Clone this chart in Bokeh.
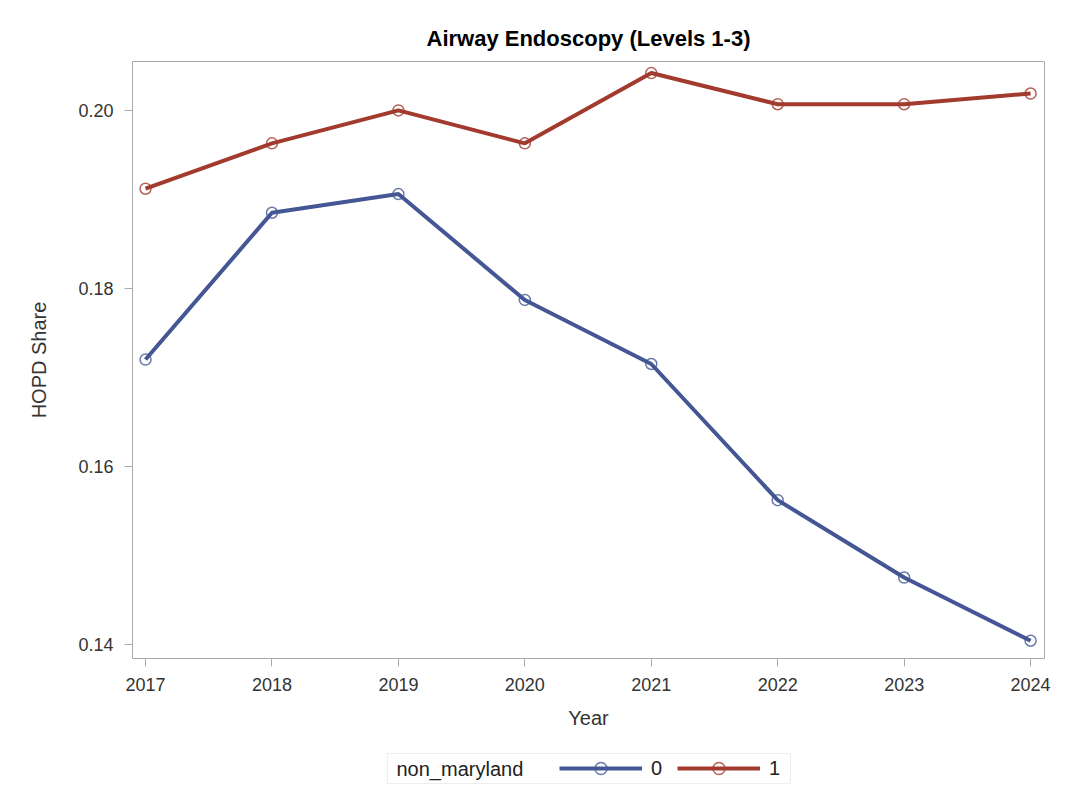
from bokeh.plotting import figure
from bokeh.layouts import column
from bokeh.models import (ColumnDataSource, Range1d, FixedTicker, NumeralTickFormatter,
                          Legend, LegendItem, Title, Label, BoxAnnotation)
from bokeh.embed import file_html
from bokeh.resources import INLINE

years = [2017, 2018, 2019, 2020, 2021, 2022, 2023, 2024]
share_0 = [0.1720, 0.1885, 0.1906, 0.1787, 0.1715, 0.1562, 0.1475, 0.1404]
share_1 = [0.1912, 0.1963, 0.2000, 0.1963, 0.2042, 0.2007, 0.2007, 0.2019]
y_ticks = [0.14, 0.16, 0.18, 0.20]
group_labels = ["0", "1"]
legend_title = "non_maryland"

BLUE = "#445694"
RED = "#A23A2E"
GRAY = "#ABABAB"
FONT = "Liberation Sans"

# ---------------- main chart ----------------
p = figure(frame_width=912, frame_height=597,
           min_border_left=132, min_border_top=61, min_border_right=24, min_border_bottom=82,
           x_range=Range1d(2016.897, 2024.11), y_range=Range1d(0.1384, 0.2055),
           output_backend="svg", toolbar_location=None)
p.title = Title(text="Airway Endoscopy (Levels 1-3)", align="center",
                text_font=FONT, text_font_size="22px", text_font_style="bold",
                text_color="#000000", standoff=21)

p.xgrid.visible = False
p.ygrid.visible = False
p.outline_line_color = GRAY
p.outline_line_width = 1
p.background_fill_color = "white"
p.border_fill_color = "white"

for ax in (p.xaxis[0], p.yaxis[0]):
    ax.axis_line_color = GRAY
    ax.major_tick_line_color = GRAY
    ax.major_tick_out = 8
    ax.major_tick_in = 0
    ax.minor_tick_line_color = None
    ax.major_label_text_font = FONT
    ax.major_label_text_font_size = "18px"
    ax.major_label_text_color = "#333333"
    ax.axis_label_text_font = FONT
    ax.axis_label_text_font_size = "20px"
    ax.axis_label_text_font_style = "normal"
    ax.axis_label_text_color = "#333333"

p.xaxis.ticker = FixedTicker(ticks=years)
p.xaxis.axis_label = "Year"
p.xaxis.major_label_standoff = 11
p.xaxis.axis_label_standoff = 13
p.yaxis.ticker = FixedTicker(ticks=y_ticks)
p.yaxis.formatter = NumeralTickFormatter(format="0.00")
p.yaxis.axis_label = "HOPD Share"
p.yaxis.major_label_standoff = 11
p.yaxis.axis_label_standoff = 25

src0 = ColumnDataSource(dict(x=years, y=share_0))
src1 = ColumnDataSource(dict(x=years, y=share_1))

line_kw = dict(line_width=4)
mark_kw = dict(marker="circle", fill_color=None, line_width=1.5, line_alpha=0.8)

p.line("x", "y", source=src0, line_color=BLUE, **line_kw)
p.scatter("x", "y", source=src0, line_color=BLUE, size=11, **mark_kw)
p.line("x", "y", source=src1, line_color=RED, **line_kw)
p.scatter("x", "y", source=src1, line_color=RED, size=11, **mark_kw)

# ---------------- legend strip (frame aligned with the chart frame) ----------------
q = figure(width=1068, height=56, min_border_top=0, min_border_bottom=0,
           min_border_left=132, min_border_right=24,
           x_range=Range1d(132, 1044), y_range=Range1d(0, 56),
           x_axis_location=None, y_axis_location=None,
           output_backend="svg", toolbar_location=None)
q.grid.visible = False
q.outline_line_color = None
q.background_fill_color = "white"
q.border_fill_color = "white"

# legend renderers: same series, lying outside this strip's visible range
ql0 = q.line("x", "y", source=src0, line_color=BLUE, **line_kw)
qm0 = q.scatter("x", "y", source=src0, line_color=BLUE, size=8, **mark_kw)
ql1 = q.line("x", "y", source=src1, line_color=RED, **line_kw)
qm1 = q.scatter("x", "y", source=src1, line_color=RED, size=8, **mark_kw)

q.add_layout(BoxAnnotation(left=387, right=790, bottom=13, top=43,
                           fill_color=None, fill_alpha=0,
                           line_color="#C8C8C8", line_width=1))
q.add_layout(Label(x=396, y=28, text=legend_title, text_baseline="middle",
                   text_font=FONT, text_font_size="20px", text_color="#222222"))

legend = Legend(items=[LegendItem(label=group_labels[0], renderers=[ql0, qm0]),
                       LegendItem(label=group_labels[1], renderers=[ql1, qm1])],
                location=(559 - 132, 13), orientation="horizontal",
                label_text_font=FONT, label_text_font_size="20px", label_text_color="#222222",
                glyph_width=83, glyph_height=30, label_height=30, label_width=20,
                label_standoff=9, spacing=6, padding=0, margin=0,
                border_line_color=None, background_fill_alpha=0)
q.add_layout(legend, "center")

open("out.html", "w").write(file_html(column(p, q, spacing=0), INLINE))
